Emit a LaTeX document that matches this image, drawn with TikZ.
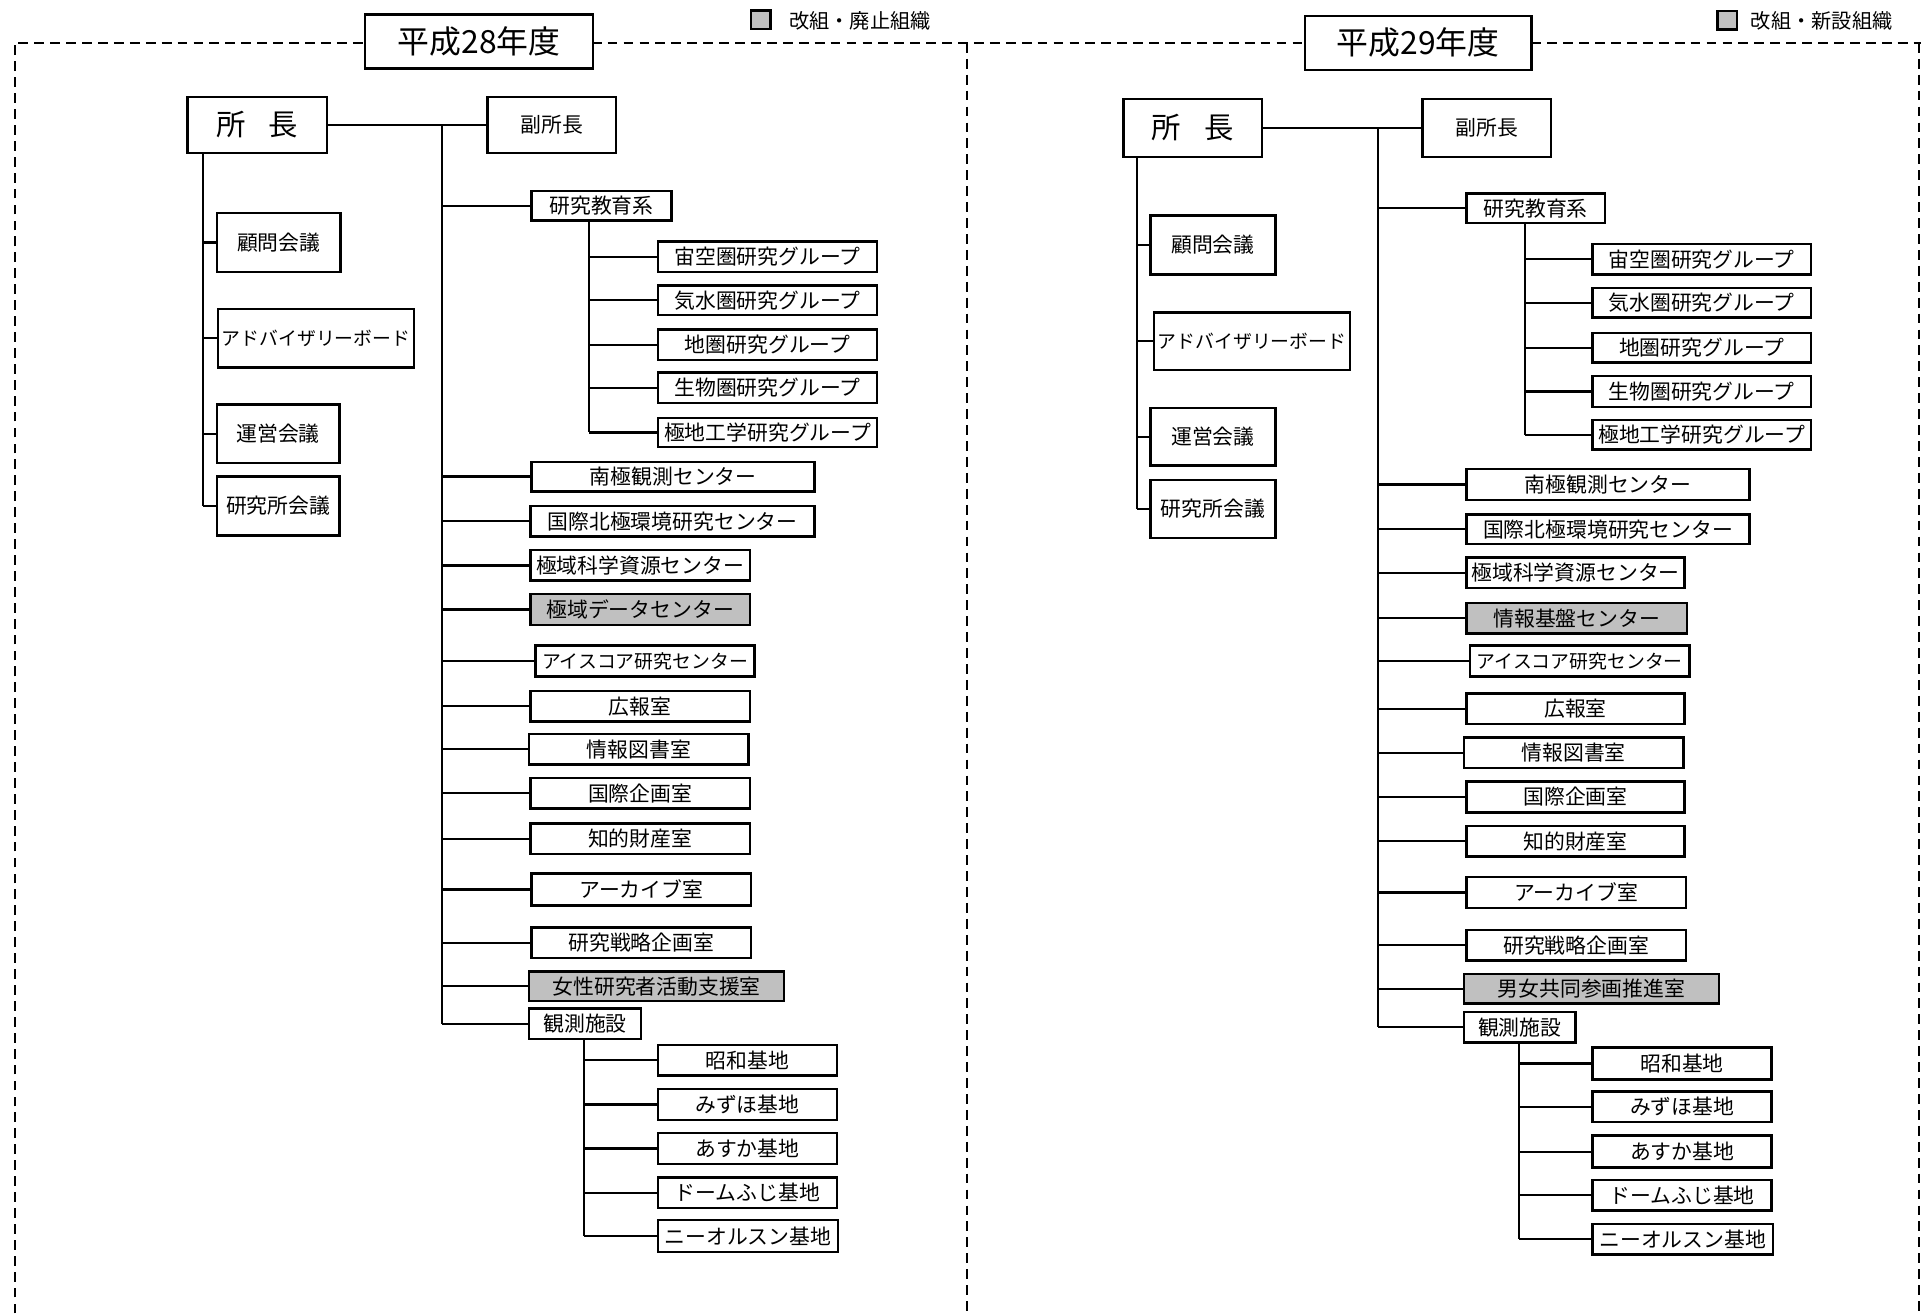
\documentclass[tikz,border=0pt]{standalone}
\usepackage{fontspec}
\setmainfont{Noto Sans CJK JP}
\definecolor{grayfill}{RGB}{192,192,192}
\newcommand\orgbox[7][ob]{\node[#1, minimum width={(#5-#3)*1pt}, minimum height={(#6-#4)*1pt}] (#2) at ({(#3+#5)/2},{(#4+#6)/2}) {#7};}
\begin{document}
\begin{tikzpicture}[x=1pt,y=-1pt,
  ob/.style={draw, line width=2pt, inner sep=0pt, fill=white, font=\fontsize{17}{19}\selectfont},
  obn/.style={ob, font=\fontsize{15.4}{17}\selectfont},
  gb/.style={ob, fill=grayfill},
  bigbox/.style={ob, font=\fontsize{24}{27}\selectfont},
  titlebox/.style={draw, line width=2pt, fill=white, inner sep=0pt, font=\fontsize{26}{29}\selectfont},
  legsq/.style={draw, line width=2pt, fill=grayfill, inner sep=0pt, minimum width=16pt, minimum height=15pt},
  legtext/.style={inner sep=0pt, font=\fontsize{16.5}{18}\selectfont},
  conn/.style={line width=1.8pt},
  framel/.style={line width=1.7pt, dash pattern=on 8pt off 5pt}]
\useasboundingbox (0,0) rectangle (1568,1072);
% frame
\draw[framel] (12,1072) -- (12,35) -- (1568,35);
\draw[framel] (789,35) -- (789,1072);
\draw[framel] (1566,35) -- (1566,1072);
% titles and legends
\node[titlebox, minimum width=186pt, minimum height=44pt] (Ltitle) at (391,34) {平成28年度};
\node[titlebox, minimum width=185pt, minimum height=44pt] (Rtitle) at (1157.5,35) {平成29年度};
\node[legsq] (Llegsq) at (621,16) {};
\node[legtext, anchor=west] (Llegtx) at (644,17) {改組・廃止組織};
\node[legsq] (Rlegsq) at (1410,16.5) {};
\node[legtext, anchor=west] (Rlegtx) at (1429,17) {改組・新設組織};

% ===== Left panel (H28) =====
\coordinate (LT) at (361,102);
\coordinate (LA) at (166,125);
\coordinate (LB) at (481,180);
\coordinate (LC) at (477,848);
\orgbox[bigbox]{Lcho}{153}{79}{267}{125}{所\hspace{19pt}長}
\orgbox{Lfuku}{398}{79}{503}{125}{副所長}
\orgbox{Lkomon}{177}{174}{278}{222}{顧問会議}
\orgbox[obn]{Ladv}{178}{252}{338}{300}{アドバイザリーボード}
\orgbox{Lunei}{177}{330}{277}{378}{運営会議}
\orgbox{Lkenkai}{177}{389}{277}{437}{研究所会議}
\orgbox{Lkyo}{434}{156}{548}{180}{研究教育系}
\orgbox{Lg1}{537}{197}{716}{222}{宙空圏研究グループ}
\orgbox{Lg2}{537}{233}{716}{257}{気水圏研究グループ}
\orgbox{Lg3}{537}{269}{716}{294}{地圏研究グループ}
\orgbox{Lg4}{537}{304}{716}{329}{生物圏研究グループ}
\orgbox{Lg5}{537}{341}{716}{365}{極地工学研究グループ}
\orgbox{Lnan}{434}{377}{665}{401}{南極観測センター}
\orgbox{Lhok}{433}{413}{665}{438}{国際北極環境研究センター}
\orgbox{Lshi}{433}{449}{612}{474}{極域科学資源センター}
\orgbox[gb]{Ldat}{433}{485}{612}{510}{極域データセンター}
\orgbox[obn]{Lice}{437}{527}{616}{552}{アイスコア研究センター}
\orgbox{Lkoh}{433}{564}{612}{589}{広報室}
\orgbox{Ltos}{432}{599}{611}{624}{情報図書室}
\orgbox{Lkik}{433}{635}{612}{660}{国際企画室}
\orgbox{Lchi}{433}{672}{612}{697}{知的財産室}
\orgbox{Larc}{434}{713}{613}{739}{アーカイブ室}
\orgbox{Lsen}{434}{757}{613}{782}{研究戦略企画室}
\orgbox[gb]{Ljos}{432}{793}{640}{817}{女性研究者活動支援室}
\orgbox{Lkan}{432}{823}{523}{848}{観測施設}
\orgbox{Lb1}{537}{853}{683}{878}{昭和基地}
\orgbox{Lb2}{537}{889}{683}{914}{みずほ基地}
\orgbox{Lb3}{537}{925}{683}{950}{あすか基地}
\orgbox{Lb4}{537}{961}{683}{986}{ドームふじ基地}
\orgbox{Lb5}{537}{996}{684}{1022}{ニーオルスン基地}

\draw[conn] (Lcho.east) -- (Lfuku.west);
\draw[conn] (LT) -- (LT |- Lkan.west);
\foreach \n in {Lkyo,Lnan,Lhok,Lshi,Ldat,Lice,Lkoh,Ltos,Lkik,Lchi,Larc,Lsen,Ljos,Lkan}
  \draw[conn] (\n.west -| LT) -- (\n.west);
\draw[conn] (LA) -- (LA |- Lkenkai.west);
\foreach \n in {Lkomon,Ladv,Lunei,Lkenkai}
  \draw[conn] (\n.west -| LA) -- (\n.west);
\draw[conn] (LB) -- (LB |- Lg5.west);
\foreach \n in {Lg1,Lg2,Lg3,Lg4,Lg5}
  \draw[conn] (\n.west -| LB) -- (\n.west);
\draw[conn] (LC) -- (LC |- Lb5.west);
\foreach \n in {Lb1,Lb2,Lb3,Lb4,Lb5}
  \draw[conn] (\n.west -| LC) -- (\n.west);

% ===== Right panel (H29) =====
\coordinate (RT) at (1125,104);
\coordinate (RA) at (928,128);
\coordinate (RB) at (1245,182);
\coordinate (RC) at (1240,851);
\orgbox[bigbox]{Rcho}{917}{81}{1030}{128}{所\hspace{19pt}長}
\orgbox{Rfuku}{1161}{81}{1266}{128}{副所長}
\orgbox{Rkomon}{939}{176}{1041}{224}{顧問会議}
\orgbox[obn]{Radv}{942}{255}{1102}{302}{アドバイザリーボード}
\orgbox{Runei}{939}{333}{1041}{380}{運営会議}
\orgbox{Rkenkai}{939}{392}{1041}{439}{研究所会議}
\orgbox{Rkyo}{1197}{158}{1310}{182}{研究教育系}
\orgbox{Rg1}{1300}{199}{1478}{224}{宙空圏研究グループ}
\orgbox{Rg2}{1300}{235}{1478}{259}{気水圏研究グループ}
\orgbox{Rg3}{1300}{272}{1478}{296}{地圏研究グループ}
\orgbox{Rg4}{1300}{307}{1478}{332}{生物圏研究グループ}
\orgbox{Rg5}{1300}{343}{1478}{367}{極地工学研究グループ}
\orgbox{Rnan}{1197}{383}{1428}{408}{南極観測センター}
\orgbox{Rhok}{1197}{420}{1428}{444}{国際北極環境研究センター}
\orgbox{Rshi}{1197}{455}{1375}{480}{極域科学資源センター}
\orgbox[gb]{Rjoh}{1197}{492}{1377}{517}{情報基盤センター}
\orgbox[obn]{Rice}{1200}{527}{1379}{552}{アイスコア研究センター}
\orgbox{Rkoh}{1197}{566}{1375}{591}{広報室}
\orgbox{Rtos}{1195}{602}{1374}{627}{情報図書室}
\orgbox{Rkik}{1197}{638}{1375}{663}{国際企画室}
\orgbox{Rchi}{1197}{674}{1375}{699}{知的財産室}
\orgbox{Rarc}{1197}{716}{1376}{741}{アーカイブ室}
\orgbox{Rsen}{1197}{759}{1376}{784}{研究戦略企画室}
\orgbox[gb]{Rdan}{1195}{795}{1403}{819}{男女共同参画推進室}
\orgbox{Rkan}{1195}{826}{1286}{851}{観測施設}
\orgbox{Rb1}{1300}{855}{1446}{881}{昭和基地}
\orgbox{Rb2}{1300}{891}{1446}{916}{みずほ基地}
\orgbox{Rb3}{1300}{927}{1446}{953}{あすか基地}
\orgbox{Rb4}{1300}{963}{1446}{988}{ドームふじ基地}
\orgbox{Rb5}{1300}{999}{1447}{1024}{ニーオルスン基地}

\draw[conn] (Rcho.east) -- (Rfuku.west);
\draw[conn] (RT) -- (RT |- Rkan.west);
\foreach \n in {Rkyo,Rnan,Rhok,Rshi,Rjoh,Rice,Rkoh,Rtos,Rkik,Rchi,Rarc,Rsen,Rdan,Rkan}
  \draw[conn] (\n.west -| RT) -- (\n.west);
\draw[conn] (RA) -- (RA |- Rkenkai.west);
\foreach \n in {Rkomon,Radv,Runei,Rkenkai}
  \draw[conn] (\n.west -| RA) -- (\n.west);
\draw[conn] (RB) -- (RB |- Rg5.west);
\foreach \n in {Rg1,Rg2,Rg3,Rg4,Rg5}
  \draw[conn] (\n.west -| RB) -- (\n.west);
\draw[conn] (RC) -- (RC |- Rb5.west);
\foreach \n in {Rb1,Rb2,Rb3,Rb4,Rb5}
  \draw[conn] (\n.west -| RC) -- (\n.west);
\end{tikzpicture}
\end{document}
